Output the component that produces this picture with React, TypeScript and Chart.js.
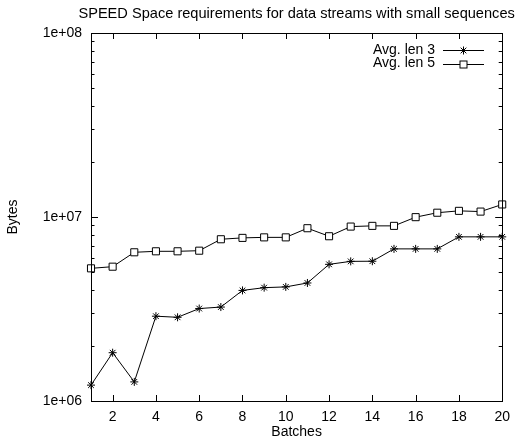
import React, { useEffect, useRef } from "react";
import { Chart, registerables } from "chart.js";

Chart.register(...registerables);

const chartTitle = "SPEED Space requirements for data streams with small sequences";
const xTitle = "Batches";
const yTitle = "Bytes";
const batches = [1, 2, 3, 4, 5, 6, 7, 8, 9, 10, 11, 12, 13, 14, 15, 16, 17, 18, 19, 20];
const avgLen3 = [1.22e6, 1.83e6, 1.27e6, 2.89e6, 2.85e6, 3.18e6, 3.24e6, 3.99e6, 4.13e6, 4.17e6, 4.38e6, 5.53e6, 5.74e6, 5.75e6, 6.71e6, 6.71e6, 6.71e6, 7.8e6, 7.8e6, 7.8e6];
const avgLen5 = [5.26e6, 5.37e6, 6.43e6, 6.51e6, 6.51e6, 6.56e6, 7.57e6, 7.7e6, 7.75e6, 7.75e6, 8.69e6, 7.86e6, 8.87e6, 8.95e6, 8.95e6, 9.98e6, 1.055e7, 1.08e7, 1.07e7, 1.17e7];
const seriesNames = ["Avg. len 3", "Avg. len 5"];
const xTickValues = [2, 4, 6, 8, 10, 12, 14, 16, 18, 20];
const yTickValues = [1e6, 1e7, 1e8];
const yTickLabels = ["1e+06", "1e+07", "1e+08"];

const FONT = "'Liberation Sans', Arial, sans-serif";

const framePlugin = {
  id: "frame",
  afterDraw(chart: any) {
    const { ctx, chartArea } = chart;
    const { left, right, top, bottom } = chartArea;
    const xs = chart.scales.x;
    const ys = chart.scales.y;
    ctx.save();
    ctx.strokeStyle = "#000";
    ctx.lineWidth = 1;
    ctx.beginPath();
    for (const v of xTickValues) {
      const px = Math.round(xs.getPixelForValue(v)) + 0.5;
      ctx.moveTo(px, bottom);
      ctx.lineTo(px, bottom - 6);
      ctx.moveTo(px, top);
      ctx.lineTo(px, top + 6);
    }
    for (let d = 6; d < 8; d++) {
      for (let m = 1; m <= 9; m++) {
        const v = m * Math.pow(10, d);
        const py = Math.round(ys.getPixelForValue(v)) + 0.5;
        const len = m === 1 ? 7 : 3.5;
        ctx.moveTo(left, py);
        ctx.lineTo(left + len, py);
        ctx.moveTo(right, py);
        ctx.lineTo(right - len, py);
      }
    }
    ctx.stroke();
    ctx.strokeRect(Math.round(left) + 0.5, Math.round(top) + 0.5, Math.round(right - left), Math.round(bottom - top));

    ctx.fillStyle = "#000";
    ctx.font = `14.6px ${FONT}`;
    ctx.textAlign = "center";
    ctx.textBaseline = "alphabetic";
    ctx.fillText(chartTitle, (left + right) / 2, 17.5);

    ctx.font = `14px ${FONT}`;
    ctx.textAlign = "right";
    ctx.textBaseline = "middle";
    const rows = [50, 63.5];
    seriesNames.forEach((name, i) => {
      const y = rows[i];
      ctx.fillText(name, 435, y);
      ctx.beginPath();
      ctx.moveTo(443, Math.round(y) + 0.5);
      ctx.lineTo(484, Math.round(y) + 0.5);
      ctx.stroke();
      const cx = 463.5;
      const cy = Math.round(y) + 0.5;
      if (i === 0) {
        const r = 4;
        const r2 = r * Math.SQRT1_2;
        ctx.beginPath();
        ctx.moveTo(cx - r, cy);
        ctx.lineTo(cx + r, cy);
        ctx.moveTo(cx, cy - r);
        ctx.lineTo(cx, cy + r);
        ctx.moveTo(cx - r2, cy - r2);
        ctx.lineTo(cx + r2, cy + r2);
        ctx.moveTo(cx - r2, cy + r2);
        ctx.lineTo(cx + r2, cy - r2);
        ctx.stroke();
      } else {
        ctx.fillStyle = "#fff";
        ctx.fillRect(cx - 3.5, cy - 3.5, 7, 7);
        ctx.strokeRect(cx - 3.5, cy - 3.5, 7, 7);
        ctx.fillStyle = "#000";
      }
    });
    ctx.restore();
  },
};

export default function App() {
  const ref = useRef<HTMLCanvasElement>(null);
  useEffect(() => {
    document.body.style.margin = "0";
    const canvas = ref.current!;
    const chart = new Chart(canvas, {
      type: "line",
      data: {
        datasets: [
          {
            label: seriesNames[0],
            data: batches.map((b, i) => ({ x: b, y: avgLen3[i] })),
            borderColor: "#000",
            backgroundColor: "#000",
            borderWidth: 1,
            pointStyle: "star",
            pointRadius: 4,
            pointBorderWidth: 1,
            pointBorderColor: "#000",
            tension: 0,
            clip: false as any,
          },
          {
            label: seriesNames[1],
            data: batches.map((b, i) => ({ x: b, y: avgLen5[i] })),
            borderColor: "#000",
            backgroundColor: "#fff",
            borderWidth: 1,
            pointStyle: "rect",
            pointRadius: 5,
            pointBorderWidth: 1,
            pointBorderColor: "#000",
            pointBackgroundColor: "#fff",
            tension: 0,
            clip: false as any,
          },
        ],
      },
      options: {
        responsive: false,
        animation: false,
        layout: { padding: { top: 33, right: 15, left: 0, bottom: 0 } },
        plugins: {
          legend: { display: false },
          title: { display: false },
          tooltip: { enabled: false },
        },
        scales: {
          x: {
            type: "linear",
            min: 1,
            max: 20,
            grid: { display: false, drawTicks: false },
            border: { display: false },
            afterBuildTicks: (s: any) => {
              s.ticks = xTickValues.map((v) => ({ value: v }));
            },
            afterFit: (s: any) => {
              s.height = 43;
            },
            ticks: {
              padding: 8,
              color: "#000",
              font: { family: FONT, size: 14 },
              maxRotation: 0,
              autoSkip: false,
            },
            title: {
              display: true,
              text: xTitle,
              color: "#000",
              font: { family: FONT, size: 14 },
              padding: { top: 0, bottom: 3 },
            },
          },
          y: {
            type: "logarithmic",
            min: 1e6,
            max: 1e8,
            grid: { display: false, drawTicks: false },
            border: { display: false },
            afterBuildTicks: (s: any) => {
              s.ticks = yTickValues.map((v) => ({ value: v }));
            },
            afterFit: (s: any) => {
              s.width = 91;
            },
            ticks: {
              padding: 9,
              color: "#000",
              font: { family: FONT, size: 14 },
              autoSkip: false,
              callback: (v: any) => {
                const i = yTickValues.indexOf(Number(v));
                return i >= 0 ? yTickLabels[i] : "";
              },
            },
            title: {
              display: true,
              text: yTitle,
              color: "#000",
              font: { family: FONT, size: 14 },
              padding: { top: 5, bottom: 0 },
            },
          },
        },
      },
      plugins: [framePlugin],
    });
    return () => chart.destroy();
  }, []);
  return <canvas ref={ref} width={518} height={444} style={{ display: "block" }} />;
}
